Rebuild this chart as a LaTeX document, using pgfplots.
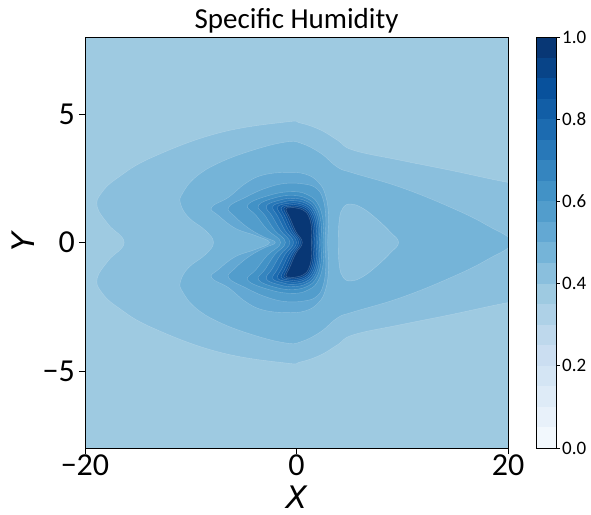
\documentclass[border=0pt]{standalone}
\usepackage{fontspec}
\setmainfont{Carlito}
\newfontfamily\lblfont{DejaVu Sans}
\usepackage{pgfplots}
\pgfplotsset{compat=1.18}

% Blues, one colour per 0.05 band
\definecolor{b01}{RGB}{242,248,253}
\definecolor{b02}{RGB}{232,241,250}
\definecolor{b03}{RGB}{222,235,247}
\definecolor{b04}{RGB}{212,229,244}
\definecolor{b05}{RGB}{203,222,241}
\definecolor{b06}{RGB}{190,216,236}
\definecolor{b07}{RGB}{174,209,231}
\definecolor{b08}{RGB}{158,202,225}
\definecolor{b09}{RGB}{138,191,221}
\definecolor{b10}{RGB}{117,180,216}
\definecolor{b11}{RGB}{99,168,211}
\definecolor{b12}{RGB}{82,157,204}
\definecolor{b13}{RGB}{66,146,198}
\definecolor{b14}{RGB}{53,133,191}
\definecolor{b15}{RGB}{40,120,184}
\definecolor{b16}{RGB}{28,107,176}
\definecolor{b17}{RGB}{18,94,166}
\definecolor{b18}{RGB}{8,81,156}
\definecolor{b19}{RGB}{8,68,136}
\definecolor{b20}{RGB}{8,55,117}

\pgfplotsset{
  cont/.style={smooth cycle, tension=0.7, fill=#1, draw=white, draw opacity=0.25, line width=0.4pt},
  band/.style={fill=#1, draw=none},
}

\begin{document}
\begin{tikzpicture}
\useasboundingbox (-85pt,-66pt) rectangle (506pt,448pt);
\begin{axis}[
  at={(0pt,0pt)}, anchor=south west,
  scale only axis, width=423pt, height=411pt,
  xmin=-20, xmax=20, ymin=-8, ymax=8,
  axis background/.style={fill=b08},
  xtick={-20,0,20}, xticklabels={−20,0,20},
  ytick={-5,0,5}, yticklabels={−5,0,5},
  tick pos=left, tick align=outside, major tick length=6pt,
  tick style={black, line width=0.8pt},
  axis line style={line width=0.8pt},
  ticklabel style={font=\fontsize{32}{38}\selectfont},
  xticklabel style={inner sep=1pt},
  yticklabel style={inner sep=4pt},
  title={Specific Humidity},
  title style={font=\fontsize{29}{34}\selectfont, anchor=base,
    at={([yshift=3pt]axis description cs:0.5,1)}},
  xlabel={X}, ylabel={Y},
  label style={font=\fontsize{31}{37}\selectfont\lblfont\itshape},
  xlabel style={anchor=base, at={([yshift=-60pt]axis description cs:0.5,0)}},
  ylabel style={anchor=base, at={([xshift=-50pt]axis description cs:0,0.5)}},
  axis on top,
]
% 0.40
\addplot[cont=b09] coordinates {
 (24,2.1) (20,2.34) (14.56,2.81) (9.83,3.2) (5.39,3.59) (3.88,3.98) (2.27,4.38)
 (0.38,4.65) (-1.04,4.69) (-7.38,4.26) (-13.62,3.32) (-16.83,2.54) (-18.4,1.95)
 (-18.85,1.4) (-17.78,0.7) (-16.3,0) (-17.78,-0.7) (-18.85,-1.4) (-18.4,-1.95)
 (-16.83,-2.54) (-13.62,-3.32) (-7.38,-4.26) (-1.04,-4.69) (0.38,-4.65) (2.27,-4.38)
 (3.88,-3.98) (5.39,-3.59) (9.83,-3.2) (14.56,-2.81) (20,-2.34) (24,-2.1) (26,0)};
% 0.45
\addplot[cont=b10] coordinates {
 (20.3,0) (18.06,0.66) (14.56,1.37) (9.83,2.15) (5.39,2.70) (3.88,2.93) (2.27,3.48)
 (0.38,3.87) (-1.04,3.91) (-4.16,3.59) (-7.38,3.09) (-9.55,2.54) (-10.78,1.91)
 (-10.97,1.52) (-10.21,0.98) (-8.61,0.47) (-7.85,0) (-8.61,-0.47) (-10.21,-0.98)
 (-10.97,-1.52) (-10.78,-1.91) (-9.55,-2.54) (-7.38,-3.09) (-4.16,-3.59) (-1.04,-3.91)
 (0.38,-3.87) (2.27,-3.48) (3.88,-2.93) (5.39,-2.70) (9.83,-2.15) (14.56,-1.37) (18.06,-0.66)};
% island below 0.45
\addplot[cont=b09] coordinates {
 (9.65,0) (8.9,0.4) (7.5,0.95) (6.2,1.35) (5.1,1.5) (4.4,1.35) (4.05,0.9) (3.95,0)
 (4.05,-0.9) (4.4,-1.35) (5.1,-1.5) (6.2,-1.35) (7.5,-0.95) (8.9,-0.4)};
% 0.50
\addplot[cont=b11] coordinates {
 (2.95,0) (3.03,1.05) (2.74,1.84) (2.08,2.34) (0.85,2.66) (-1.04,2.73) (-3.22,2.62)
 (-4.82,2.30) (-6.43,1.76) (-8.04,1.37) (-7.38,1.05) (-5.77,0.55) (-3.88,0.27) (-2.55,0)
 (-3.88,-0.27) (-5.77,-0.55) (-7.38,-1.05) (-8.04,-1.37) (-6.43,-1.76) (-4.82,-2.30)
 (-3.22,-2.62) (-1.04,-2.73) (0.85,-2.66) (2.08,-2.34) (2.74,-1.84) (3.03,-1.05)};
% 0.55
\addplot[cont=b12] coordinates {
 (2.7,0) (2.77,0.95) (2.5,1.7) (1.9,2.1) (0.8,2.27) (-1.04,2.30) (-2.93,2.11)
 (-4.82,1.76) (-6.43,1.37) (-5.8,1.0) (-4.5,0.55) (-3.1,0.22) (-2.0,0)
 (-3.1,-0.22) (-4.5,-0.55) (-5.8,-1.0) (-6.43,-1.37) (-4.82,-1.76) (-2.93,-2.11)
 (-1.04,-2.30) (0.8,-2.27) (1.9,-2.1) (2.5,-1.7) (2.77,-0.95)};
% 0.60
\addplot[cont=b13] coordinates {
 (2.5,0) (2.53,0.79) (2.05,1.49) (1.13,1.84) (-0.3,1.98) (-2.45,1.85) (-4.6,1.47)
 (-3.83,1.06) (-2.74,0.49) (-1.5,0) (-2.74,-0.49) (-3.83,-1.06) (-4.6,-1.47)
 (-2.45,-1.85) (-0.3,-1.98) (1.13,-1.84) (2.05,-1.49) (2.53,-0.79)};
% 0.65
\addplot[cont=b14] coordinates {
 (2.3,0) (2.33,0.73) (1.89,1.37) (1.04,1.70) (-0.3,1.83) (-1.95,1.75) (-3.6,1.45)
 (-2.96,1.04) (-2.07,0.48) (-1.05,0) (-2.07,-0.48) (-2.96,-1.04) (-3.6,-1.45)
 (-1.95,-1.75) (-0.3,-1.83) (1.04,-1.70) (1.89,-1.37) (2.33,-0.73)};
% 0.70
\addplot[cont=b15] coordinates {
 (2.15,0) (2.18,0.69) (1.76,1.29) (0.97,1.60) (-0.3,1.72) (-1.58,1.65) (-2.85,1.42)
 (-2.29,1.02) (-1.51,0.47) (-0.62,0) (-1.51,-0.47) (-2.29,-1.02) (-2.85,-1.42)
 (-1.58,-1.65) (-0.3,-1.72) (0.97,-1.60) (1.76,-1.29) (2.18,-0.69)};
% 0.75
\addplot[cont=b16] coordinates {
 (2.0,0) (2.03,0.65) (1.64,1.22) (0.9,1.52) (-0.3,1.63) (-1.28,1.57) (-2.25,1.40)
 (-1.76,1.01) (-1.07,0.46) (-0.28,0) (-1.07,-0.46) (-1.76,-1.01) (-2.25,-1.40)
 (-1.28,-1.57) (-0.3,-1.63) (0.9,-1.52) (1.64,-1.22) (2.03,-0.65)};
% 0.80
\addplot[cont=b17] coordinates {
 (1.85,0) (1.88,0.62) (1.52,1.16) (0.83,1.44) (-0.3,1.55) (-1.05,1.51) (-1.8,1.37)
 (-1.35,0.99) (-0.72,0.45) (0,0) (-0.72,-0.45) (-1.35,-0.99) (-1.8,-1.37)
 (-1.05,-1.51) (-0.3,-1.55) (0.83,-1.44) (1.52,-1.16) (1.88,-0.62)};
% 0.85
\addplot[cont=b18] coordinates {
 (1.7,0) (1.73,0.59) (1.39,1.11) (0.77,1.38) (-0.3,1.48) (-0.88,1.45) (-1.45,1.35)
 (-1.04,0.97) (-0.46,0.45) (0.2,0) (-0.46,-0.45) (-1.04,-0.97) (-1.45,-1.35)
 (-0.88,-1.45) (-0.3,-1.48) (0.77,-1.38) (1.39,-1.11) (1.73,-0.59)};
% 0.90
\addplot[cont=b19] coordinates {
 (1.55,0) (1.58,0.57) (1.27,1.07) (0.70,1.32) (-0.3,1.42) (-0.75,1.40) (-1.2,1.33)
 (-0.81,0.96) (-0.25,0.44) (0.38,0) (-0.25,-0.44) (-0.81,-0.96) (-1.2,-1.33)
 (-0.75,-1.40) (-0.3,-1.42) (0.70,-1.32) (1.27,-1.07) (1.58,-0.57)};
% 0.95
\addplot[cont=b20] coordinates {
 (1.4,0) (1.43,0.54) (1.15,1.02) (0.63,1.26) (-0.3,1.36) (-0.65,1.35) (-1.0,1.30)
 (-0.61,0.94) (-0.07,0.43) (0.55,0) (-0.07,-0.43) (-0.61,-0.94) (-1.0,-1.30)
 (-0.65,-1.35) (-0.3,-1.36) (0.63,-1.26) (1.15,-1.02) (1.43,-0.54)};
\end{axis}

% colour bar
\begin{axis}[
  at={(451pt,0pt)}, anchor=south west,
  scale only axis, width=20pt, height=411pt,
  xmin=0, xmax=1, ymin=0, ymax=1,
  xtick=\empty,
  ytick={0,0.2,0.4,0.6,0.8,1}, yticklabels={0.0,0.2,0.4,0.6,0.8,1.0},
  ytick pos=right, tick align=outside, major tick length=4pt,
  tick style={black, line width=0.6pt},
  axis line style={line width=0.6pt},
  yticklabel style={font=\fontsize{19}{23}\selectfont, inner sep=2pt},
  axis on top,
]
\addplot[band=b01] coordinates {(0,0) (1,0) (1,0.05) (0,0.05)} -- cycle;
\addplot[band=b02] coordinates {(0,0.05) (1,0.05) (1,0.10) (0,0.10)} -- cycle;
\addplot[band=b03] coordinates {(0,0.10) (1,0.10) (1,0.15) (0,0.15)} -- cycle;
\addplot[band=b04] coordinates {(0,0.15) (1,0.15) (1,0.20) (0,0.20)} -- cycle;
\addplot[band=b05] coordinates {(0,0.20) (1,0.20) (1,0.25) (0,0.25)} -- cycle;
\addplot[band=b06] coordinates {(0,0.25) (1,0.25) (1,0.30) (0,0.30)} -- cycle;
\addplot[band=b07] coordinates {(0,0.30) (1,0.30) (1,0.35) (0,0.35)} -- cycle;
\addplot[band=b08] coordinates {(0,0.35) (1,0.35) (1,0.40) (0,0.40)} -- cycle;
\addplot[band=b09] coordinates {(0,0.40) (1,0.40) (1,0.45) (0,0.45)} -- cycle;
\addplot[band=b10] coordinates {(0,0.45) (1,0.45) (1,0.50) (0,0.50)} -- cycle;
\addplot[band=b11] coordinates {(0,0.50) (1,0.50) (1,0.55) (0,0.55)} -- cycle;
\addplot[band=b12] coordinates {(0,0.55) (1,0.55) (1,0.60) (0,0.60)} -- cycle;
\addplot[band=b13] coordinates {(0,0.60) (1,0.60) (1,0.65) (0,0.65)} -- cycle;
\addplot[band=b14] coordinates {(0,0.65) (1,0.65) (1,0.70) (0,0.70)} -- cycle;
\addplot[band=b15] coordinates {(0,0.70) (1,0.70) (1,0.75) (0,0.75)} -- cycle;
\addplot[band=b16] coordinates {(0,0.75) (1,0.75) (1,0.80) (0,0.80)} -- cycle;
\addplot[band=b17] coordinates {(0,0.80) (1,0.80) (1,0.85) (0,0.85)} -- cycle;
\addplot[band=b18] coordinates {(0,0.85) (1,0.85) (1,0.90) (0,0.90)} -- cycle;
\addplot[band=b19] coordinates {(0,0.90) (1,0.90) (1,0.95) (0,0.95)} -- cycle;
\addplot[band=b20] coordinates {(0,0.95) (1,0.95) (1,1) (0,1)} -- cycle;
\end{axis}
\end{tikzpicture}
\end{document}
